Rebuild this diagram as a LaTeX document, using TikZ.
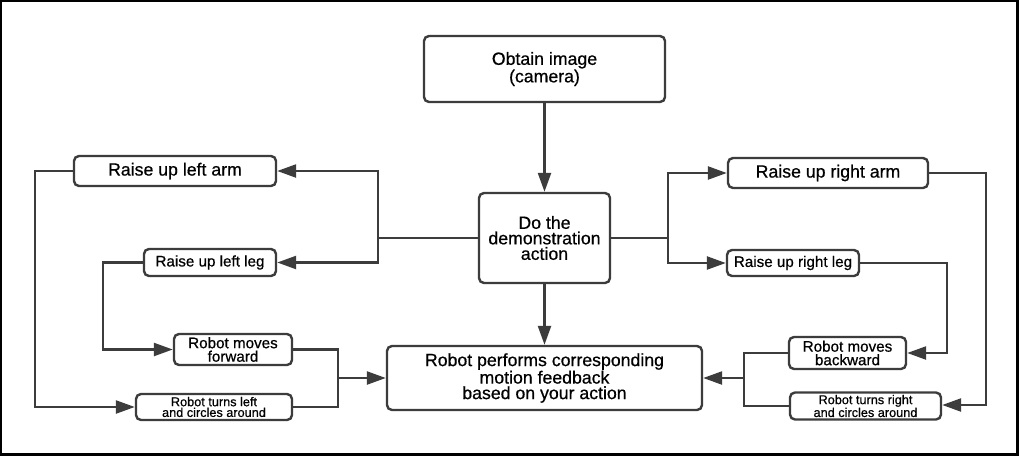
\documentclass[tikz,border=0pt]{standalone}
\usepackage{fontspec}
\setmainfont{Liberation Sans}[FakeBold=0.6]
\usetikzlibrary{arrows.meta}
\definecolor{ln}{HTML}{3C3C3C}
\begin{document}
\begin{tikzpicture}[x=1pt,y=-1pt,
  box/.style={draw=ln, line width=2.4pt, rounded corners=5pt, align=center, inner sep=0pt, text=black, fill=white},
  big/.style={font=\fontsize{17.7}{15.5}\selectfont},
  mid/.style={font=\fontsize{15.2}{13.5}\selectfont},
  sml/.style={font=\fontsize{12.7}{10.7}\selectfont},
  conn/.style={draw=ln, line width=2.4pt},
  arr/.style={conn, -{Triangle[length=19pt,width=13pt]}},
]
\useasboundingbox (0,0) rectangle (1020,458);
\fill[white] (0,0) rectangle (1020,458);
\draw[black, line width=2.5pt] (1,1) rectangle (1017.7,454.5);

% central column
\node[box, big, minimum width=241pt, minimum height=66pt] (obtain) at (544.5,69) {Obtain image\\(camera)};
\node[box, big, minimum width=131pt, minimum height=90pt] (demo) at (544.5,238) {Do the\\demonstration\\action};
\node[box, big, minimum width=315pt, minimum height=64pt] (perform) at (544.5,378) {Robot performs corresponding\\motion feedback\\based on your action};

% left side
\node[box, big, minimum width=202pt, minimum height=30pt] (larm) at (175,171) {Raise up left arm};
\node[box, mid, minimum width=132pt, minimum height=27pt] (lleg) at (210,262.5) {Raise up left leg};
\node[box, mid, minimum width=118pt, minimum height=31pt] (fwd) at (233,349.5) {Robot moves\\forward};
\node[box, sml, minimum width=156pt, minimum height=26pt] (tleft) at (214,407) {Robot turns left\\and circles around};

% right side
\node[box, big, minimum width=200pt, minimum height=30pt] (rarm) at (828,173) {Raise up right arm};
\node[box, mid, minimum width=132pt, minimum height=26pt] (rleg) at (793,263) {Raise up right leg};
\node[box, mid, minimum width=117pt, minimum height=32pt] (bwd) at (847.5,353) {Robot moves\\backward};
\node[box, sml, minimum width=151pt, minimum height=27pt] (tright) at (865.5,406) {Robot turns right\\and circles around};

% junction / routing coordinates
\coordinate (jl) at (378,238);
\coordinate (jr) at (668,238);
\coordinate (xla) at (35,0);
\coordinate (xll) at (103,0);
\coordinate (jbl) at (338,378);
\coordinate (jbr) at (744,378);
\coordinate (xra) at (986,0);
\coordinate (xrl) at (947,0);

% vertical flow
\draw[arr] (obtain) -- (demo);
\draw[arr] (demo) -- (perform);

% demo to left
\draw[conn] (demo.west) -- (jl);
\draw[arr] (jl) |- (larm.east);
\draw[arr] (jl) |- (lleg.east);
% demo to right
\draw[conn] (demo.east) -- (jr);
\draw[arr] (jr) |- (rarm.west);
\draw[arr] (jr) |- (rleg.west);

% left outer routes
\draw[arr] (larm.west) -- (larm.west -| xla) |- (tleft.west);
\draw[arr] (lleg.west) -- (lleg.west -| xll) |- (fwd.west);
% right outer routes
\draw[arr] (rarm.east) -- (rarm.east -| xra) |- ([yshift=1pt]tright.east);
\draw[arr] (rleg.east) -- (rleg.east -| xrl) |- (bwd.east);

% merges into perform
\draw[conn] (fwd.east) -| (jbl);
\draw[conn] (tleft.east) -| (jbl);
\draw[arr] (jbl) -- (perform.west);
\draw[conn] (bwd.west) -| (jbr);
\draw[conn] (tright.west) -| (jbr);
\draw[arr] (jbr) -- (perform.east);
\end{tikzpicture}
\end{document}
